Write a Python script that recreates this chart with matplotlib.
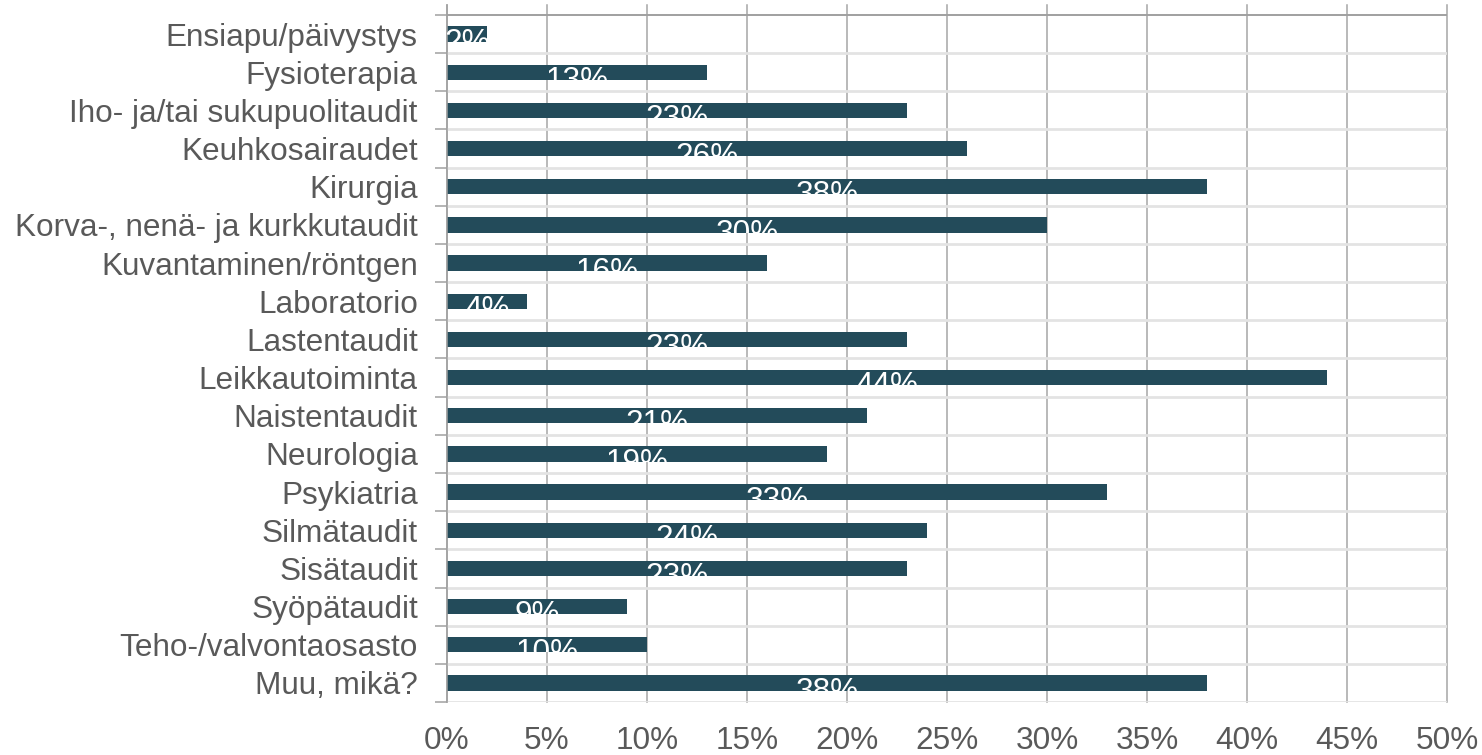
import matplotlib
matplotlib.use("Agg")
import matplotlib.pyplot as plt
import numpy as np

categories = ["Ensiapu/päivystys", "Fysioterapia", "Iho- ja/tai sukupuolitaudit",
              "Keuhkosairaudet", "Kirurgia", "Korva-, nenä- ja kurkkutaudit",
              "Kuvantaminen/röntgen", "Laboratorio", "Lastentaudit", "Leikkautoiminta",
              "Naistentaudit", "Neurologia", "Psykiatria", "Silmätaudit", "Sisätaudit",
              "Syöpätaudit", "Teho-/valvontaosasto", "Muu, mikä?"]
values = [2, 13, 23, 26, 38, 30, 16, 4, 23, 44, 21, 19, 33, 24, 23, 9, 10, 38]
xticks = [0, 5, 10, 15, 20, 25, 30, 35, 40, 45, 50]

plt.rcParams['font.family'] = ['Liberation Sans', 'DejaVu Sans']

W, H = 1482, 755
fig = plt.figure(figsize=(W / 100, H / 100), dpi=100)
ax_left, ax_right = 447, 1447
ax_top, ax_bottom = 5, 702
ax = fig.add_axes([ax_left / W, 1 - ax_bottom / H, (ax_right - ax_left) / W, (ax_bottom - ax_top) / H])

n = len(categories)
slot = (ax_bottom - 15) / n
y = np.arange(n)
bar_color = "#234B5A"
bars = ax.barh(y, values, height=0.40, color=bar_color, zorder=3)

ax.set_xlim(0, 50)
top_extra = (15 - ax_top) / slot
ax.set_ylim(n - 0.5, -0.5 - top_extra)

# vertical gridlines
ax.set_xticks(xticks)
ax.set_xticklabels([f"{v}%" for v in xticks])
for v in xticks:
    ax.axvline(v, color="#A6A6A6", lw=1.1, zorder=1, clip_on=False)

# horizontal separators
for b in np.arange(n + 1) - 0.5:
    if b == -0.5:
        ax.axhline(b, color="#A0A0A0", lw=1.4, zorder=2)
    else:
        ax.axhline(b, color="#E3E3E3", lw=2.0, zorder=2)

ax.set_yticks(np.arange(n + 1) - 0.5)
ax.set_yticklabels([])
ax.set_yticks(y, minor=True)
ax.set_yticklabels(categories, minor=True)
ax.tick_params(axis='y', which='major', length=9, width=1.1, color="#A0A0A0", direction='out')
ax.tick_params(axis='y', which='minor', length=0, pad=21, labelsize=22.7, labelcolor="#595959")
ax.tick_params(axis='x', which='major', length=0, pad=17, labelsize=22.7, labelcolor="#595959")

for s in ['top', 'right', 'bottom']:
    ax.spines[s].set_visible(False)
ax.spines['left'].set_color("#A0A0A0")
ax.spines['left'].set_linewidth(1.1)
ax.spines['left'].set_zorder(4)

for rect, v, yi in zip(bars, values, y):
    t = ax.annotate(f"{v}%", xy=(v / 2, yi), xytext=(0, -12), textcoords='offset points',
                    ha='center', va='baseline', color='white', fontsize=22.7, zorder=5)
    t.set_clip_path(rect)

fig.savefig("out.png", dpi=100, facecolor="white")
